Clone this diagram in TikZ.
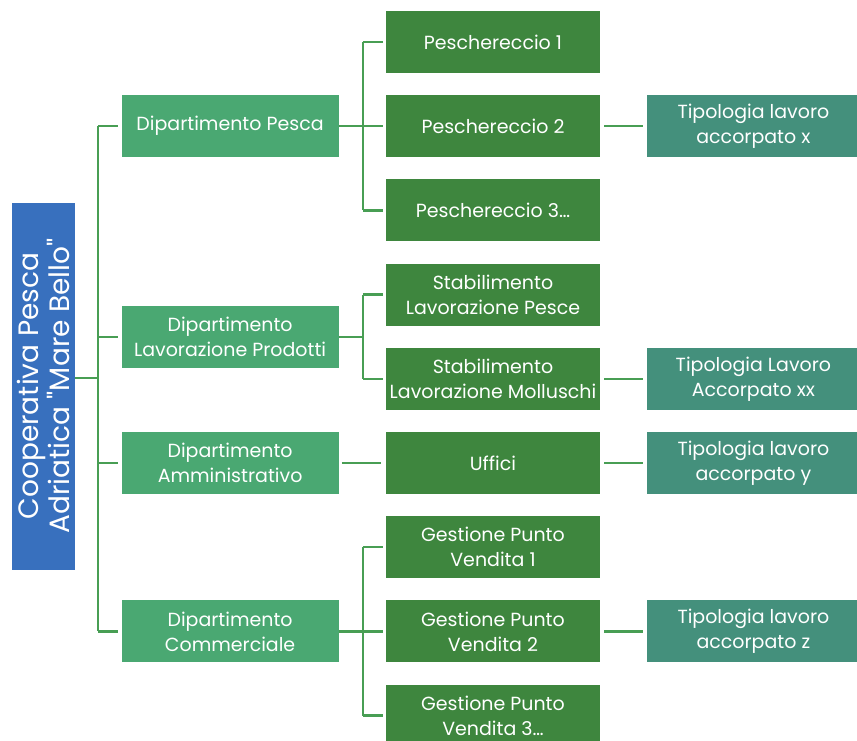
\documentclass[tikz,border=0pt]{standalone}
\usepackage{fontspec}
\setmainfont{Poppins}
\usetikzlibrary{positioning,calc}

\definecolor{coopblue}{RGB}{56,112,190}
\definecolor{deptgreen}{RGB}{74,168,114}
\definecolor{unitgreen}{RGB}{62,134,62}
\definecolor{tipoteal}{RGB}{68,144,124}
\definecolor{linkgreen}{RGB}{72,158,84}

\tikzset{
    box/.style = {inner sep=2pt, align=center, text=white, font=\fontsize{19}{25}\selectfont},
    coop/.style = {box, fill=coopblue, rotate=90, minimum width=367pt, minimum height=63pt,
        inner sep=0pt, font=\fontsize{28}{29}\selectfont},
    dept/.style = {box, fill=deptgreen, minimum width=217pt, minimum height=62pt},
    unit/.style = {box, fill=unitgreen, minimum width=214pt, minimum height=62pt},
    tipo/.style = {box, fill=tipoteal, minimum width=212pt, minimum height=62pt},
    link/.style = {draw=linkgreen, line width=2.4pt}
}

\begin{document}
\begin{tikzpicture}[x=1pt, y=-1pt, node distance={21.8pt and 47pt}]
        \clip (0,0) rectangle (857,741);
        \fill[white] (0,0) rectangle (857,741);

        \node[unit] (pes1) at (493,42) {Peschereccio 1};
        \node[unit] (pes2) [below=of pes1] {Peschereccio 2};
        \node[unit] (pes3) [below=of pes2] {Peschereccio 3\dots};
        \node[unit] (stab1) [below=of pes3] {Stabilimento\\Lavorazione Pesce};
        \node[unit] (stab2) [below=of stab1] {Stabilimento\\Lavorazione Molluschi};
        \node[unit] (uffici) [below=of stab2] {Uffici};
        \node[unit] (gest1) [below=of uffici] {Gestione Punto\\Vendita 1};
        \node[unit] (gest2) [below=of gest1] {Gestione Punto\\Vendita 2};
        \node[unit] (gest3) [below=of gest2] {Gestione Punto\\Vendita 3\dots};

        \coordinate (midlav) at ($(stab1.west)!0.5!(stab2.west)$);
        \node[dept] (dpesca) [left=of pes2] {Dipartimento Pesca};
        \node[dept] (dlav) [left=47pt of midlav] {Dipartimento\\Lavorazione Prodotti};
        \node[dept] (damm) [left=of uffici] {Dipartimento\\Amministrativo};
        \node[dept] (dcomm) [left=of gest2] {Dipartimento\\Commerciale};

        \node[tipo] (tipox) [right=of pes2] {Tipologia lavoro\\accorpato x};
        \node[tipo] (tipoxx) [right=of stab2] {Tipologia Lavoro\\Accorpato xx};
        \node[tipo] (tipoy) [right=of uffici] {Tipologia lavoro\\accorpato y};
        \node[tipo] (tipoz) [right=of gest2] {Tipologia lavoro\\accorpato z};

        \node[coop] (coop) at (43.5,386) {Cooperativa Pesca\\Adriatica \textquotedbl Mare Bello\textquotedbl};

        % root to departments
        \draw[link] ($(coop.south)+(0,-8)$) -- ++(23,0) coordinate (bus);
        \draw[link] (bus |- dpesca.west) -- (bus |- dcomm.west);
        \foreach \d in {dpesca,dlav,damm,dcomm}
            \draw[link, shorten >=3pt] (bus |- \d.west) -- (\d.west);

        % departments to units
        \draw[link] (dpesca.east) -- ++(24,0) coordinate (bpesca);
        \draw[link] (bpesca |- pes1.west) -- (bpesca |- pes3.west);
        \foreach \u in {pes1,pes2,pes3}
            \draw[link, shorten >=3pt] (bpesca |- \u.west) -- (\u.west);

        \draw[link] (dlav.east) -- ++(24,0) coordinate (blav);
        \draw[link] (blav |- stab1.west) -- (blav |- stab2.west);
        \foreach \u in {stab1,stab2}
            \draw[link, shorten >=3pt] (blav |- \u.west) -- (\u.west);

        \draw[link, shorten <=3pt, shorten >=5pt] (damm) -- (uffici);

        \draw[link] (dcomm.east) -- ++(24,0) coordinate (bcomm);
        \draw[link] (bcomm |- gest1.west) -- (bcomm |- gest3.west);
        \foreach \u in {gest1,gest2,gest3}
            \draw[link, shorten >=3pt] (bcomm |- \u.west) -- (\u.west);

        % units to work types
        \draw[link, shorten <=4pt, shorten >=4pt] (pes2) -- (tipox);
        \draw[link, shorten <=4pt, shorten >=4pt] (stab2) -- (tipoxx);
        \draw[link, shorten <=4pt, shorten >=4pt] (uffici) -- (tipoy);
        \draw[link, shorten <=4pt, shorten >=4pt] (gest2) -- (tipoz);
    \end{tikzpicture}
\end{document}
